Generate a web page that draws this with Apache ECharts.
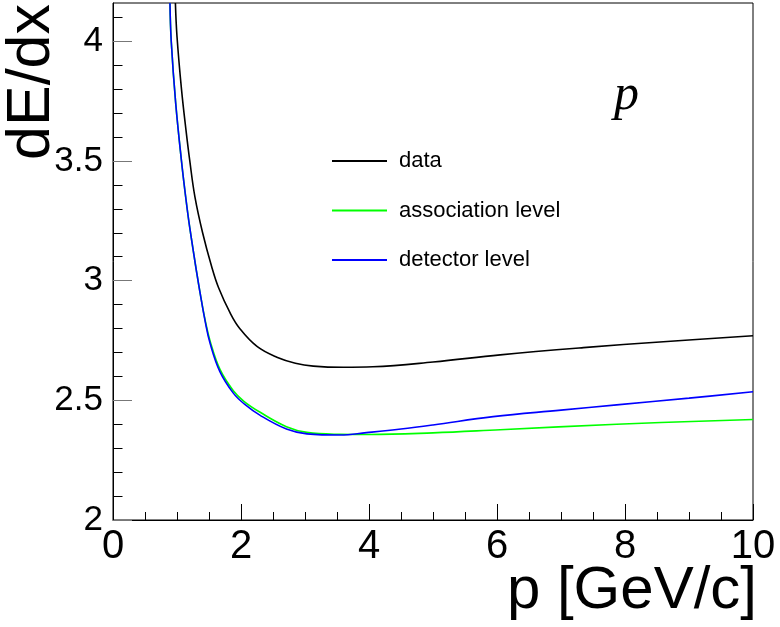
<!DOCTYPE html>
<html>
<head>
<meta charset="utf-8">
<script src="https://cdn.jsdelivr.net/npm/echarts@6/dist/echarts.min.js"></script>
<style>
  html, body { margin: 0; padding: 0; background: #fff; }
  #chart { width: 780px; height: 627px; }
</style>
</head>
<body>
<div id="chart"></div>
<script>
// Proton dE/dx parametrisation versus momentum
const seriesNames = ['data', 'association level', 'detector level'];

// data
const pData = [0.975, 1.00, 1.07, 1.14, 1.20, 1.28, 1.40, 1.54, 1.65, 1.83, 1.98, 2.25, 2.56, 2.85, 3.13, 3.60, 4.06, 5.00, 6.05, 7.35, 8.60, 10.0];
const dedxData = [4.16, 4.02, 3.80, 3.63, 3.50, 3.35, 3.20, 3.06, 2.97, 2.865, 2.80, 2.725, 2.68, 2.655, 2.643, 2.638, 2.640, 2.660, 2.690, 2.720, 2.745, 2.770];

// association level
const pAssoc = [0.89, 0.91, 0.98, 1.07, 1.14, 1.20, 1.31, 1.36, 1.44, 1.52, 1.67, 1.88, 2.05, 2.30, 2.71, 3.03, 3.55, 4.00, 5.00, 6.05, 7.87, 10.0];
const dedxAssoc = [4.16, 4.00, 3.74, 3.50, 3.34, 3.22, 3.03, 2.95, 2.835, 2.745, 2.63, 2.54, 2.495, 2.45, 2.39, 2.366, 2.358, 2.357, 2.364, 2.377, 2.400, 2.420];

// detector level
const pDet = [0.89, 0.91, 0.98, 1.07, 1.14, 1.20, 1.31, 1.36, 1.44, 1.52, 1.67, 1.88, 2.05, 2.30, 2.71, 3.03, 3.55, 3.96, 4.50, 5.00, 5.94, 7.00, 7.87, 9.00, 10.0];
const dedxDet = [4.16, 4.00, 3.74, 3.50, 3.34, 3.22, 3.03, 2.95, 2.83, 2.735, 2.62, 2.53, 2.485, 2.437, 2.38, 2.36, 2.355, 2.365, 2.38, 2.397, 2.432, 2.459, 2.481, 2.509, 2.536];

const seriesColors = ['#000000', '#00ff00', '#0000ff'];

// axis ticks
const yMajorTicks = [2, 2.5, 3, 3.5, 4];
const yMinorTicks = [2.1, 2.2, 2.3, 2.4, 2.6, 2.7, 2.8, 2.9, 3.1, 3.2, 3.3, 3.4, 3.6, 3.7, 3.8, 3.9, 4.1];

// axis titles and the particle label
const xTitle = 'p [GeV/c]';
const yTitle = 'dE/dx';
const particleLabel = 'p';

const pairs = (xs, ys) => xs.map((x, i) => [x, ys[i]]);

const chart = echarts.init(document.getElementById('chart'), null, { renderer: 'canvas' });

const FONT = '"Liberation Sans", Arial, Helvetica, sans-serif';

const lineSeries = (name, xs, ys, color) => ({
  name: name,
  type: 'line',
  data: pairs(xs, ys),
  xAxisIndex: 0,
  yAxisIndex: 0,
  showSymbol: false,
  symbol: 'none',
  smooth: 0.4,
  clip: true,
  lineStyle: { color: color, width: 1.6 },
  itemStyle: { color: color },
  z: 3
});

chart.setOption({
  animation: false,
  backgroundColor: '#ffffff',
  grid: {
    left: 113, right: 27, top: 3, bottom: 107,
    containLabel: false,
    outerBoundsMode: 'none',
    show: true, borderColor: '#000', borderWidth: 1, backgroundColor: 'transparent'
  },
  legend: {
    orient: 'vertical',
    left: 332, top: 149,
    padding: 0,
    itemGap: 25.5,
    itemWidth: 55,
    itemHeight: 2,
    icon: 'rect',
    data: seriesNames,
    textStyle: { fontFamily: FONT, fontSize: 22, color: '#000', lineHeight: 24, padding: [0, 0, 0, 7] }
  },
  xAxis: {
    type: 'value',
    min: 0, max: 10, interval: 2,
    axisLine: { show: true, lineStyle: { color: '#000', width: 1 } },
    axisTick: { show: true, inside: true, length: 16, lineStyle: { color: '#000', width: 1 } },
    minorTick: { show: true, splitNumber: 4, length: 8, lineStyle: { color: '#000', width: 1 } },
    axisLabel: { fontFamily: FONT, fontSize: 40, color: '#000', margin: 7 },
    splitLine: { show: false },
    minorSplitLine: { show: false }
  },
  yAxis: [
    {
      type: 'value',
      position: 'left',
      min: 2, max: 4.16,
      axisLine: { show: true, lineStyle: { color: '#000', width: 1 } },
      axisTick: { show: true, inside: true, length: 19, customValues: yMajorTicks, lineStyle: { color: '#777', width: 1 } },
      axisLabel: { fontFamily: FONT, fontSize: 35, color: '#000', margin: 10, customValues: yMajorTicks },
      splitLine: { show: false }
    },
    {
      type: 'value',
      position: 'left',
      min: 2, max: 4.16,
      axisLine: { show: false },
      axisTick: { show: true, inside: true, length: 9.5, customValues: yMinorTicks, lineStyle: { color: '#000', width: 1 } },
      axisLabel: { show: false },
      splitLine: { show: false }
    }
  ],
  graphic: [
    {
      // x-axis title, right-aligned under the frame
      type: 'text',
      x: 757, y: 591,
      z: 10,
      style: {
        text: xTitle,
        font: '60px ' + FONT,
        fill: '#000',
        align: 'right',
        verticalAlign: 'middle'
      }
    },
    {
      // y-axis title, rotated, top-aligned along the left edge
      type: 'text',
      x: 32, y: 4,
      rotation: Math.PI / 2,
      z: 10,
      style: {
        text: yTitle,
        font: '61px ' + FONT,
        fill: '#000',
        align: 'right',
        verticalAlign: 'middle'
      }
    },
    {
      type: 'text',
      x: 614, y: 96,
      z: 10,
      style: {
        text: particleLabel,
        font: 'italic 50px "Liberation Serif", "Times New Roman", serif',
        fill: '#000',
        align: 'left',
        verticalAlign: 'middle'
      }
    }
  ],
  series: [
    lineSeries(seriesNames[0], pData, dedxData, seriesColors[0]),
    lineSeries(seriesNames[1], pAssoc, dedxAssoc, seriesColors[1]),
    lineSeries(seriesNames[2], pDet, dedxDet, seriesColors[2])
  ]
});
</script>
</body>
</html>
